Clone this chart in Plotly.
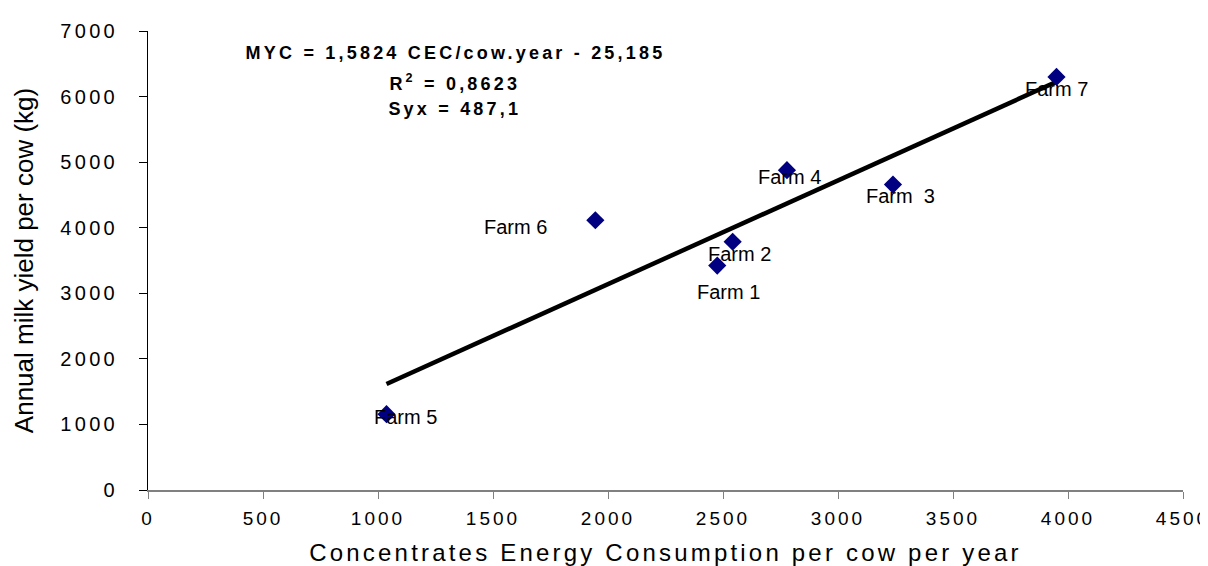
import plotly.graph_objects as go

# ---- data ----
farms = ["Farm 1", "Farm 2", "Farm \u00a03", "Farm 4", "Farm 5", "Farm 6", "Farm 7"]
cec_per_cow = [2475, 2542, 3239, 2778, 1037, 1945, 3950]      # Concentrates Energy Consumption
milk_yield = [3423, 3786, 4658, 4878, 1156, 4114, 6299]       # Annual milk yield per cow (kg)

trend_slope = 1.5824
trend_intercept = -25.185

eq_lines = ["MYC = 1,5824 CEC/cow.year - 25,185", "R<sup>2</sup> = 0,8623", "Syx = 487,1"]

x_ticks = [0, 500, 1000, 1500, 2000, 2500, 3000, 3500, 4000, 4500]
y_ticks = [0, 1000, 2000, 3000, 4000, 5000, 6000, 7000]

# ---- label styling (pixel offsets of each farm label from its point) ----
label_dx = [11, 7, 8, 3, 19, -80, 0]
label_dy = [26, 12, 11, 7, 3, 7, 12]

FONT = "Arial, 'Liberation Sans', sans-serif"

fig = go.Figure()

x_line = [min(cec_per_cow), max(cec_per_cow)]
y_line = [trend_slope * v + trend_intercept for v in x_line]
fig.add_trace(go.Scatter(x=x_line, y=y_line, mode="lines",
                         line=dict(color="black", width=4.5),
                         hoverinfo="skip", showlegend=False))

fig.add_trace(go.Scatter(x=cec_per_cow, y=milk_yield, mode="markers",
                         marker=dict(symbol="diamond", size=14, color="#000080",
                                     line=dict(width=0)),
                         text=farms, showlegend=False))

for name, xv, yv, dx, dy in zip(farms, cec_per_cow, milk_yield, label_dx, label_dy):
    fig.add_annotation(x=xv, y=yv, text=name, showarrow=False,
                       xshift=dx, yshift=-dy, xanchor="center", yanchor="middle",
                       font=dict(family=FONT, size=20, color="black"))

eq_y = [6657, 6219, 5811]
for txt, yy in zip(eq_lines, eq_y):
    fig.add_annotation(x=1336, y=yy, text="<b>" + txt + "</b>", showarrow=False,
                       xanchor="center", yanchor="middle",
                       font=dict(family=FONT, size=18, color="black"))

fig.update_layout(
    width=1208, height=566,
    margin=dict(l=140, r=28, t=22, b=81),
    paper_bgcolor="white", plot_bgcolor="white",
    font=dict(family=FONT, color="black"),
    xaxis=dict(range=[0, 4500], tickvals=x_ticks, ticktext=[str(v) for v in x_ticks],
               showgrid=False, zeroline=False,
               showline=True, linecolor="#808080", linewidth=2,
               ticks="outside", ticklen=7, tickcolor="#808080", tickwidth=1,
               tickfont=dict(family=FONT, size=19, color="black"),
               ticklabelstandoff=3,
               title=dict(text="Concentrates Energy Consumption per cow per year",
                          font=dict(family=FONT, size=24, color="black"), standoff=16)),
    yaxis=dict(range=[0, 7000], tickvals=y_ticks, ticktext=[str(v) for v in y_ticks],
               showgrid=False, zeroline=False,
               showline=True, linecolor="black", linewidth=1,
               ticks="outside", ticklen=8, tickcolor="black", tickwidth=1,
               tickfont=dict(family=FONT, size=20, color="black"),
               ticklabelstandoff=17,
               title=dict(text="Annual milk yield per cow (kg)",
                          font=dict(family=FONT, size=26, color="black"), standoff=32)),
)

post_js = """
var gd = document.getElementById('{plot_id}');
function spacing(){
  gd.querySelectorAll('.xtick text').forEach(function(t){ t.style.letterSpacing='3px'; });
  gd.querySelectorAll('.ytick text').forEach(function(t){ t.style.letterSpacing='3.3px'; });
  gd.querySelectorAll('.g-xtitle text').forEach(function(t){ t.style.letterSpacing='3.2px'; });
  gd.querySelectorAll('.annotation-text').forEach(function(t){
    if (t.textContent.indexOf('Farm') < 0) { t.style.letterSpacing='3.2px'; }
  });
}
spacing();
gd.on('plotly_afterplot', spacing);
"""

fig.write_html("out.html", post_script=post_js, config={"displayModeBar": False})
